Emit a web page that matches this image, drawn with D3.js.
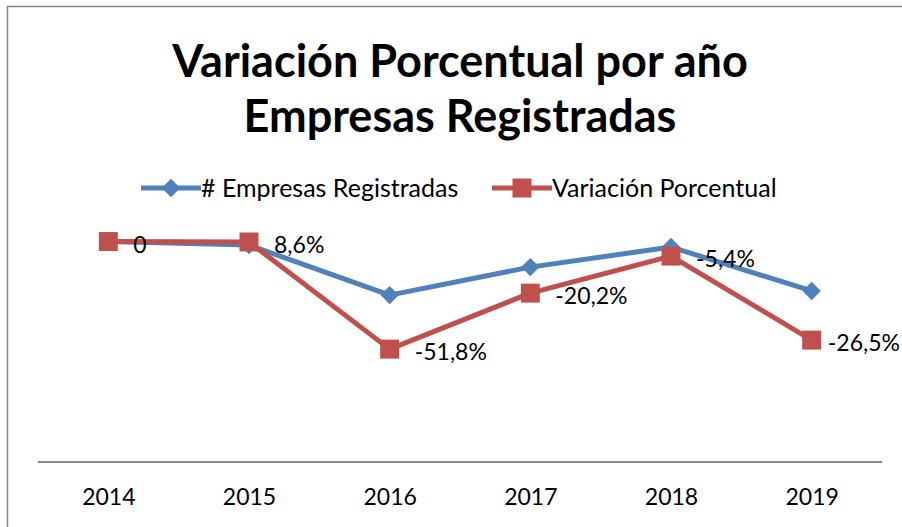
<!DOCTYPE html>
<html>
<head>
  <meta charset="utf-8">
  <script src="https://d3js.org/d3.v7.min.js"></script>
  <style>
    body { margin: 0; background: white; }
    svg { display: block; font-family: Lato, "Open Sans", sans-serif; }
  </style>
</head>
<body>
  <div id="chart"></div>
  <script>
    // data (hidden value axis, 2014 = 100)
    var years = ["2014", "2015", "2016", "2017", "2018", "2019"];
    var empresas = [100, 98.4, 75.7, 88.4, 97.5, 77.6];
    var variacion = [100, 99.8, 51.2, 76.6, 93.4, 55.3];
    var variacionLabels = ["0", "8,6%", "-51,8%", "-20,2%", "-5,4%", "-26,5%"];
    var seriesNames = ["# Empresas Registradas", "Variación Porcentual"];
    var titleLines = ["Variación Porcentual por año", "Empresas Registradas"];

    var width = 902, height = 527;
    var blue = "#4f81bd", red = "#c0504d";
    var axisY = 462;

    var svg = d3.select("#chart").append("svg")
      .attr("width", width)
      .attr("height", height);

    // chart frame (cropped at right and bottom)
    svg.append("rect")
      .attr("x", 7.5).attr("y", 6.5)
      .attr("width", 1000).attr("height", 600)
      .attr("fill", "white")
      .attr("stroke", "#868686")
      .attr("stroke-width", 1.5);

    // title
    svg.selectAll(".title")
      .data(titleLines)
      .enter().append("text")
      .attr("class", "title")
      .attr("x", 460)
      .attr("y", function (d, i) { return 77 + i * 55; })
      .attr("text-anchor", "middle")
      .style("font-weight", "bold")
      .style("font-size", "45px")
      .text(function (d) { return d; });

    var x = d3.scalePoint()
      .domain(years)
      .range([38, 882])
      .padding(0.5);

    var y = d3.scaleLinear()
      .domain([0, 110])
      .range([axisY, axisY - 242.5]);

    // category axis
    var xAxis = svg.append("g")
      .attr("transform", "translate(0," + axisY + ")")
      .call(d3.axisBottom(x).tickSize(0).tickPadding(27));
    xAxis.select(".domain")
      .attr("d", "M38,0H882")
      .attr("stroke", "#868686")
      .attr("stroke-width", 2);
    xAxis.selectAll("text")
      .style("font-size", "23px")
      .style("font-family", "Lato, sans-serif")
      .attr("fill", "black");

    var line = d3.line()
      .x(function (d, i) { return x(years[i]); })
      .y(function (d) { return y(d); });

    // empresas (blue, diamonds)
    svg.append("path")
      .datum(empresas)
      .attr("d", line)
      .attr("fill", "none")
      .attr("stroke", blue)
      .attr("stroke-width", 5)
      .attr("stroke-linejoin", "round");

    var diamond = d3.symbol().type(d3.symbolSquare).size(170);
    svg.selectAll(".diamond")
      .data(empresas)
      .enter().append("path")
      .attr("class", "diamond")
      .attr("d", diamond)
      .attr("fill", blue)
      .attr("transform", function (d, i) {
        return "translate(" + x(years[i]) + "," + y(d) + ") rotate(45)";
      });

    // variacion (red, squares)
    svg.append("path")
      .datum(variacion)
      .attr("d", line)
      .attr("fill", "none")
      .attr("stroke", red)
      .attr("stroke-width", 5)
      .attr("stroke-linejoin", "round");

    var square = d3.symbol().type(d3.symbolSquare).size(361);
    svg.selectAll(".square")
      .data(variacion)
      .enter().append("path")
      .attr("class", "square")
      .attr("d", square)
      .attr("fill", red)
      .attr("transform", function (d, i) {
        return "translate(" + x(years[i]) + "," + y(d) + ")";
      });

    // data labels right of the red markers
    svg.selectAll(".lbl")
      .data(variacion)
      .enter().append("text")
      .attr("class", "lbl")
      .attr("x", function (d, i) { return x(years[i]) + 25; })
      .attr("y", function (d) { return y(d) + 11; })
      .style("font-size", "23px")
      .text(function (d, i) { return variacionLabels[i]; })
      .each(function () {
        // keep labels inside the chart area like Excel does
        var w = this.getComputedTextLength();
        var x0 = +d3.select(this).attr("x");
        if (x0 + w > 900) d3.select(this).attr("x", 900 - w);
      });

    // legend
    var legend = svg.append("g").attr("transform", "translate(0,188)");
    var items = [
      { name: seriesNames[0], color: blue, x0: 141, marker: diamond, rot: 45 },
      { name: seriesNames[1], color: red, x0: 492, marker: square, rot: 0 }
    ];
    items.forEach(function (it) {
      var g = legend.append("g").attr("transform", "translate(" + it.x0 + ",0)");
      g.append("line")
        .attr("x1", 0).attr("x2", 60)
        .attr("stroke", it.color)
        .attr("stroke-width", 5);
      g.append("path")
        .attr("d", it.marker)
        .attr("fill", it.color)
        .attr("transform", "translate(30,0) rotate(" + it.rot + ")");
      g.append("text")
        .attr("x", 60)
        .attr("y", 9)
        .style("font-size", "25px")
        .text(it.name);
    });
  </script>
</body>
</html>
